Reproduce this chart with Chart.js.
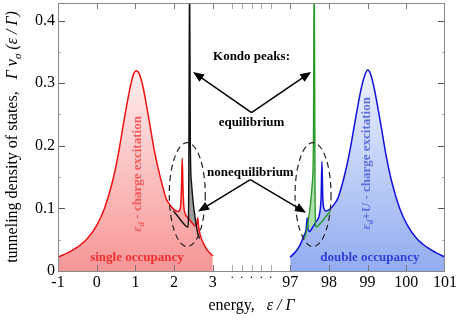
<!DOCTYPE html>
<html>
<head>
<meta charset="utf-8">
<script src="https://cdn.jsdelivr.net/npm/chart.js@4.4.1/dist/chart.umd.min.js"></script>
<style>
    html, body { margin: 0; padding: 0; background: #fff; }
</style>
</head>
<body>
<canvas id="dosChart" width="458" height="329"></canvas>
<script>
// single occupancy peak (nonequilibrium, split Kondo peaks)
const singleEnergy = [-1.0, -0.75, -0.5, -0.25, 0.0, 0.2, 0.4, 0.55, 0.7, 0.85, 0.95, 1.03, 1.1, 1.2, 1.35, 1.5, 1.65, 1.8, 1.9, 2.0, 2.1, 2.16, 2.19, 2.21, 2.23, 2.26, 2.35, 2.45, 2.55, 2.59, 2.61, 2.63, 2.68, 2.75, 2.85, 3.0];
const singleDos = [0.022, 0.029, 0.038, 0.051, 0.073, 0.100, 0.141, 0.184, 0.238, 0.289, 0.314, 0.32, 0.315, 0.293, 0.242, 0.189, 0.148, 0.115, 0.105, 0.098, 0.095, 0.1, 0.13, 0.18, 0.13, 0.098, 0.086, 0.078, 0.072, 0.076, 0.085, 0.072, 0.056, 0.045, 0.034, 0.024];

// double occupancy peak
const doubleEnergy = [97.0, 97.18, 97.28, 97.35, 97.41, 97.44, 97.46, 97.5, 97.58, 97.68, 97.76, 97.8, 97.82, 97.84, 97.87, 97.93, 98.03, 98.13, 98.23, 98.38, 98.53, 98.68, 98.83, 98.93, 99.0, 99.08, 99.18, 99.33, 99.48, 99.63, 99.83, 100.03, 100.28, 100.53, 100.78, 101.0];
const doubleDos = [0.022, 0.034, 0.045, 0.056, 0.066, 0.085, 0.066, 0.063, 0.07, 0.08, 0.092, 0.12, 0.175, 0.12, 0.1, 0.096, 0.099, 0.106, 0.116, 0.147, 0.188, 0.24, 0.29, 0.313, 0.321, 0.314, 0.289, 0.238, 0.184, 0.141, 0.100, 0.073, 0.051, 0.038, 0.029, 0.022];

// equilibrium Kondo peaks
const eqLeftEnergy = [1.98, 2.1, 2.2, 2.3, 2.36, 2.38, 2.4, 2.42, 2.45, 2.5, 2.54, 2.58, 2.62, 2.66];
const eqLeftDos = [0.096, 0.087, 0.079, 0.072, 0.07, 0.15, 0.5, 0.2, 0.14, 0.105, 0.087, 0.07, 0.058, 0.052];
const eqRightEnergy = [97.36, 97.4, 97.44, 97.48, 97.52, 97.57, 97.6, 97.62, 97.64, 97.66, 97.72, 97.82, 97.92, 98.04];
const eqRightDos = [0.052, 0.058, 0.07, 0.087, 0.105, 0.14, 0.2, 0.5, 0.15, 0.07, 0.072, 0.079, 0.087, 0.096];

// axis ticks (energies), the axis is broken between 3 and 97
const xTickLabels = [-1, 0, 1, 2, 3, 97, 98, 99, 100, 101];
const gapTicks = [3.5, 3.75, 4, 4.25, 4.5];
const yTickValues = [0, 0.05, 0.1, 0.15, 0.2, 0.25, 0.3, 0.35, 0.4];

const gapShift = 92;
const serif = '"Liberation Serif", "DejaVu Serif", serif';

function toAxis(e) {
    return e > 50 ? e - gapShift : e;
}

function makePoints(energy, dos) {
    return energy.map(function (e, i) {
        return { x: toAxis(e), y: dos[i] };
    });
}

function gradientFill(c0, c1) {
    return function (context) {
        const chart = context.chart;
        const area = chart.chartArea;
        if (!area) {
            return c1;
        }
        const top = chart.scales.y.getPixelForValue(0.32);
        const g = chart.ctx.createLinearGradient(0, top, 0, area.bottom);
        g.addColorStop(0, c0);
        g.addColorStop(1, c1);
        return g;
    };
}

// text made of several runs (italic, subscripts ...)
function drawRuns(ctx, runs, x, y, angle, color) {
    ctx.save();
    ctx.translate(x, y);
    ctx.rotate(angle);
    ctx.fillStyle = color;
    ctx.textAlign = 'left';
    ctx.textBaseline = 'alphabetic';
    let total = 0;
    runs.forEach(function (r) {
        ctx.font = r.font;
        r.w = ctx.measureText(r.t).width;
        total += r.w;
    });
    let cx = -total / 2;
    runs.forEach(function (r) {
        ctx.font = r.font;
        ctx.fillText(r.t, cx, r.dy || 0);
        cx += r.w;
    });
    ctx.restore();
}

function arrow(ctx, x1, y1, x2, y2) {
    const a = Math.atan2(y2 - y1, x2 - x1);
    const L = 11, W = 4.5;
    ctx.beginPath();
    ctx.moveTo(x1, y1);
    ctx.lineTo(x2 - 6 * Math.cos(a), y2 - 6 * Math.sin(a));
    ctx.stroke();
    ctx.beginPath();
    ctx.moveTo(x2, y2);
    ctx.lineTo(x2 - L * Math.cos(a) + W * Math.sin(a), y2 - L * Math.sin(a) - W * Math.cos(a));
    ctx.lineTo(x2 - L * Math.cos(a) - W * Math.sin(a), y2 - L * Math.sin(a) + W * Math.cos(a));
    ctx.closePath();
    ctx.fill();
}

// frame with inward ticks on all four sides
const frameTicks = {
    id: 'frameTicks',
    afterDatasetsDraw(chart) {
        const ctx = chart.ctx;
        const a = chart.chartArea;
        const x = chart.scales.x;
        const y = chart.scales.y;
        ctx.save();
        ctx.lineWidth = 1;
        x.ticks.forEach(function (t) {
            const px = Math.round(x.getPixelForValue(t.value)) + 0.5;
            if (px <= a.left + 1 || px >= a.right - 1) return;
            ctx.strokeStyle = t.kind === 'major' ? '#777' : '#aaa';
            ctx.beginPath();
            ctx.moveTo(px, a.bottom); ctx.lineTo(px, a.bottom - 6);
            ctx.moveTo(px, a.top); ctx.lineTo(px, a.top + 6);
            ctx.stroke();
        });
        y.ticks.forEach(function (t) {
            const py = Math.round(y.getPixelForValue(t.value)) + 0.5;
            if (py >= a.bottom - 1) return;
            const major = Math.abs(t.value * 10 - Math.round(t.value * 10)) < 1e-6;
            const len = major ? 7 : 3;
            ctx.strokeStyle = major ? '#555' : '#aaa';
            ctx.beginPath();
            ctx.moveTo(a.left, py); ctx.lineTo(a.left + len, py);
            ctx.moveTo(a.right, py); ctx.lineTo(a.right - len, py);
            ctx.stroke();
        });
        ctx.strokeStyle = '#888';
        ctx.strokeRect(Math.round(a.left) + 0.5, Math.round(a.top) + 0.5,
            Math.round(a.right - a.left) - 1, Math.round(a.bottom - a.top));

        // dots under the broken part of the axis
        ctx.fillStyle = '#000';
        ctx.font = '12px ' + serif;
        ctx.textAlign = 'center';
        ctx.textBaseline = 'alphabetic';
        gapTicks.forEach(function (v) {
            ctx.fillText('.', x.getPixelForValue(v), a.bottom + 7);
        });
        ctx.restore();
    }
};

// titles and annotations
const labels = {
    id: 'labels',
    afterDraw(chart) {
        const ctx = chart.ctx;
        const x = chart.scales.x;
        const y = chart.scales.y;
        const X = function (v) { return x.getPixelForValue(v); };
        const Y = function (v) { return y.getPixelForValue(v); };

        // axis titles
        drawRuns(ctx, [
            { t: 'tunneling density of states,   ', font: '16px ' + serif },
            { t: 'Γ ν', font: 'italic 16px ' + serif },
            { t: 'σ', font: 'italic 11px ' + serif, dy: 4 },
            { t: ' (ε / Γ)', font: 'italic 16px ' + serif }
        ], 17, (chart.chartArea.top + chart.chartArea.bottom) / 2, -Math.PI / 2, '#000');
        drawRuns(ctx, [
            { t: 'energy,   ', font: '16px ' + serif },
            { t: 'ε / Γ', font: 'italic 16px ' + serif }
        ], X(4), 310, 0, '#000');

        // rotated peak labels
        drawRuns(ctx, [
            { t: 'ε', font: 'italic bold 13px ' + serif },
            { t: 'd', font: 'italic bold 9px ' + serif, dy: 3 },
            { t: ' - charge excitation', font: 'bold 13px ' + serif }
        ], X(1.04) + 4, Y(0.155), -Math.PI / 2, '#f25a5a');
        drawRuns(ctx, [
            { t: 'ε', font: 'italic bold 13px ' + serif },
            { t: 'd', font: 'italic bold 9px ' + serif, dy: 3 },
            { t: '+', font: 'bold 13px ' + serif },
            { t: 'U', font: 'italic bold 13px ' + serif },
            { t: ' - charge excitation', font: 'bold 13px ' + serif }
        ], X(toAxis(98.96)) + 4, Y(0.172), -Math.PI / 2, '#5b6fe6');

        drawRuns(ctx, [{ t: 'single occupancy', font: 'bold 13px ' + serif }],
            X(1.04), Y(0.0225) + 4, 0, '#ee3030');
        drawRuns(ctx, [{ t: 'double occupancy', font: 'bold 13px ' + serif }],
            X(toAxis(99.06)), Y(0.0225) + 4, 0, '#3040d8');

        // Kondo peak annotations
        ctx.save();
        ctx.fillStyle = '#000';
        ctx.strokeStyle = '#000';
        ctx.lineWidth = 1.5;
        ctx.font = 'bold 13px ' + serif;
        ctx.textAlign = 'center';
        ctx.textBaseline = 'middle';
        ctx.fillText('Kondo peaks:', X(4), Y(0.342));
        ctx.fillText('equilibrium', X(4), Y(0.237));
        ctx.fillText('nonequilibrium', X(3.97), Y(0.157));
        arrow(ctx, X(4), Y(0.253), X(2.49), Y(0.318));
        arrow(ctx, X(4), Y(0.253), X(5.54), Y(0.318));
        arrow(ctx, X(3.97), Y(0.146), X(2.62), Y(0.095));
        arrow(ctx, X(3.97), Y(0.146), X(5.41), Y(0.093));

        // dashed ellipses around the split peaks
        ctx.lineWidth = 1.2;
        ctx.strokeStyle = '#222';
        ctx.setLineDash([6, 4]);
        [2.34, 5.59].forEach(function (cx) {
            ctx.beginPath();
            ctx.ellipse(X(cx), Y(0.122), 18, 52, 0, 0, Math.PI * 2);
            ctx.stroke();
        });
        ctx.restore();
    }
};

const data = {
    datasets: [{
        label: 'equilibrium (single)',
        data: makePoints(eqLeftEnergy, eqLeftDos),
        borderColor: '#111',
        borderWidth: 1.4,
        fill: { target: 2, above: 'rgba(90,90,90,0.6)', below: 'rgba(0,0,0,0)' }
    }, {
        label: 'equilibrium (double)',
        data: makePoints(eqRightEnergy, eqRightDos),
        borderColor: '#2a9a2a',
        borderWidth: 1.4,
        fill: { target: 3, above: 'rgba(120,200,120,0.6)', below: 'rgba(0,0,0,0)' }
    }, {
        label: 'single occupancy',
        data: makePoints(singleEnergy, singleDos),
        borderColor: '#ee1111',
        borderWidth: 1.5,
        backgroundColor: gradientFill('rgba(255,238,238,1)', 'rgba(247,150,150,1)'),
        fill: 'origin'
    }, {
        label: 'double occupancy',
        data: makePoints(doubleEnergy, doubleDos),
        borderColor: '#1111dd',
        borderWidth: 1.5,
        backgroundColor: gradientFill('rgba(238,242,255,1)', 'rgba(145,172,240,1)'),
        fill: 'origin'
    }]
};

const config = {
    type: 'line',
    data: data,
    options: {
        responsive: false,
        animation: false,
        layout: { padding: { top: 3, right: 13, left: 0, bottom: 0 } },
        elements: {
            point: { radius: 0 },
            line: { cubicInterpolationMode: 'monotone' }
        },
        plugins: {
            legend: { display: false },
            tooltip: { enabled: false },
            filler: { drawTime: 'beforeDatasetsDraw', propagate: false }
        },
        scales: {
            x: {
                type: 'linear',
                min: -1,
                max: 9,
                afterBuildTicks: function (scale) {
                    const ticks = xTickLabels.map(function (e) {
                        return { value: toAxis(e), kind: 'major' };
                    });
                    gapTicks.forEach(function (v) {
                        ticks.push({ value: v, kind: 'gap' });
                    });
                    scale.ticks = ticks.sort(function (p, q) { return p.value - q.value; });
                },
                afterFit: function (scale) {
                    scale.height = 58;
                    scale.paddingLeft = 0;
                    scale.paddingRight = 0;
                },
                grid: { display: false, drawTicks: false },
                border: { display: false },
                ticks: {
                    autoSkip: false,
                    maxRotation: 0,
                    padding: 2,
                    color: '#000',
                    font: { family: serif, size: 16 },
                    callback: function (v) {
                        if (v > 3 && v < 5) return '';
                        return String(v > 4 ? Math.round(v + gapShift) : Math.round(v));
                    }
                }
            },
            y: {
                min: 0,
                max: 0.428,
                afterBuildTicks: function (scale) {
                    scale.ticks = yTickValues.map(function (v) { return { value: v }; });
                },
                afterFit: function (scale) {
                    scale.width = 58;
                    scale.paddingTop = 0;
                    scale.paddingBottom = 0;
                },
                grid: { display: false, drawTicks: false },
                border: { display: false },
                ticks: {
                    autoSkip: false,
                    padding: 3,
                    color: '#000',
                    font: { family: serif, size: 16 },
                    callback: function (v) {
                        const r = Math.round(v * 100) / 100;
                        if (Math.abs(r * 10 - Math.round(r * 10)) > 1e-6) return '';
                        return r === 0 ? '0' : r.toFixed(1);
                    }
                }
            }
        }
    },
    plugins: [frameTicks, labels]
};

const dosChart = new Chart(document.getElementById('dosChart'), config);
</script>
</body>
</html>
